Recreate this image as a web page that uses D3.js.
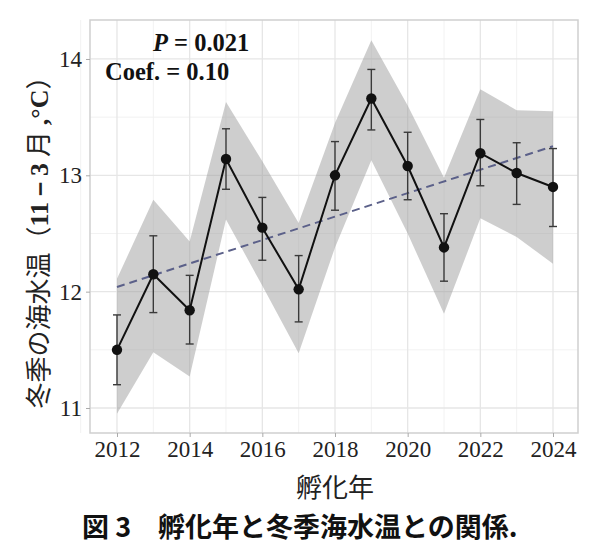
<!DOCTYPE html>
<html>
<head>
<meta charset="utf-8">
<script src="https://cdn.jsdelivr.net/npm/d3@7"></script>
<style>
  body { margin: 0; background: #fff; }
  svg { display: block; }
</style>
</head>
<body>
<svg id="chart" width="600" height="554"></svg>
<script>
// Data
const years = [2012, 2013, 2014, 2015, 2016, 2017, 2018, 2019, 2020, 2021, 2022, 2023, 2024];
const meanTemp = [11.50, 12.15, 11.84, 13.14, 12.55, 12.02, 13.00, 13.66, 13.08, 12.38, 13.19, 13.02, 12.90];
const errLow = [11.20, 11.82, 11.55, 12.88, 12.27, 11.74, 12.70, 13.39, 12.79, 12.09, 12.91, 12.75, 12.56];
const errHigh = [11.80, 12.48, 12.14, 13.40, 12.81, 12.31, 13.29, 13.91, 13.37, 12.67, 13.48, 13.28, 13.23];
const bandLow = [10.95, 11.48, 11.27, 12.62, 12.05, 11.47, 12.38, 13.13, 12.50, 11.81, 12.63, 12.47, 12.24];
const bandHigh = [12.11, 12.79, 12.43, 13.63, 13.12, 12.59, 13.45, 14.16, 13.60, 12.98, 13.74, 13.56, 13.55];
const trendYears = [2012, 2024];
const trendValues = [12.04, 13.25];
const xTicks = [2012, 2014, 2016, 2018, 2020, 2022, 2024];
const yTicks = [11, 12, 13, 14];

const rows = years.map((yr, i) => ({
  year: yr, mean: meanTemp[i], lo: errLow[i], hi: errHigh[i], bLo: bandLow[i], bHi: bandHigh[i]
}));

const svg = d3.select('#chart');
const panel = { left: 90, right: 578, top: 20, bottom: 433 };

const x = d3.scaleLinear().domain([2011.257, 2024.688]).range([panel.left, panel.right]);
const y = d3.scaleLinear().domain([10.785, 14.335]).range([panel.bottom, panel.top]);

// grid lines (minor first, then major)
const g = svg.append('g');
const xMinor = d3.range(2011, 2025, 1).filter(v => v % 2 === 1);
const yMinor = [11.5, 12.5, 13.5];
g.selectAll('.xminor').data(xMinor).join('line')
  .attr('x1', d => x(d)).attr('x2', d => x(d))
  .attr('y1', panel.top).attr('y2', panel.bottom)
  .attr('stroke', '#f2f2f2').attr('stroke-width', 1);
g.selectAll('.yminor').data(yMinor).join('line')
  .attr('x1', panel.left).attr('x2', panel.right)
  .attr('y1', d => y(d)).attr('y2', d => y(d))
  .attr('stroke', '#f2f2f2').attr('stroke-width', 1);
g.selectAll('.xmajor').data(xTicks).join('line')
  .attr('x1', d => x(d)).attr('x2', d => x(d))
  .attr('y1', panel.top).attr('y2', panel.bottom)
  .attr('stroke', '#e6e6e6').attr('stroke-width', 1.3);
g.selectAll('.ymajor').data(yTicks).join('line')
  .attr('x1', panel.left).attr('x2', panel.right)
  .attr('y1', d => y(d)).attr('y2', d => y(d))
  .attr('stroke', '#e6e6e6').attr('stroke-width', 1.3);

// confidence ribbon
const area = d3.area()
  .x(d => x(d.year))
  .y0(d => y(d.bLo))
  .y1(d => y(d.bHi));
svg.append('path')
  .datum(rows)
  .attr('d', area)
  .attr('fill', '#999')
  .attr('opacity', 0.48);

// trend line
svg.append('line')
  .attr('x1', x(trendYears[0])).attr('y1', y(trendValues[0]))
  .attr('x2', x(trendYears[1])).attr('y2', y(trendValues[1]))
  .attr('stroke', '#5b6089')
  .attr('stroke-width', 2)
  .attr('stroke-dasharray', '8,5');

// error bars
const eb = svg.append('g').attr('stroke', '#3a3a3a').attr('stroke-width', 1.4);
eb.selectAll('.v').data(rows).join('line')
  .attr('x1', d => x(d.year)).attr('x2', d => x(d.year))
  .attr('y1', d => y(d.lo)).attr('y2', d => y(d.hi));
eb.selectAll('.t').data(rows).join('line')
  .attr('x1', d => x(d.year) - 4).attr('x2', d => x(d.year) + 4)
  .attr('y1', d => y(d.hi)).attr('y2', d => y(d.hi));
eb.selectAll('.b').data(rows).join('line')
  .attr('x1', d => x(d.year) - 4).attr('x2', d => x(d.year) + 4)
  .attr('y1', d => y(d.lo)).attr('y2', d => y(d.lo));

// mean line and points
const line = d3.line().x(d => x(d.year)).y(d => y(d.mean));
svg.append('path')
  .datum(rows)
  .attr('d', line)
  .attr('fill', 'none')
  .attr('stroke', '#111')
  .attr('stroke-width', 2);
svg.selectAll('.pt').data(rows).join('circle')
  .attr('cx', d => x(d.year)).attr('cy', d => y(d.mean))
  .attr('r', 5.2).attr('fill', '#111');

// panel border
svg.append('rect')
  .attr('x', panel.left).attr('y', panel.top)
  .attr('width', panel.right - panel.left).attr('height', panel.bottom - panel.top)
  .attr('fill', 'none').attr('stroke', '#cfcfcf').attr('stroke-width', 1.5);

// axes
const xAxis = d3.axisBottom(x).tickValues(xTicks).tickFormat(d3.format('d')).tickSize(4).tickPadding(4);
const yAxis = d3.axisLeft(y).tickValues(yTicks).tickFormat(d3.format('d')).tickSize(4).tickPadding(4);
const gx = svg.append('g').attr('transform', `translate(0,${panel.bottom})`).call(xAxis);
const gy = svg.append('g').attr('transform', `translate(${panel.left},0)`).call(yAxis);
[gx, gy].forEach(a => {
  a.select('.domain').remove();
  a.selectAll('.tick line').attr('stroke', '#aaa');
  a.selectAll('.tick text')
    .attr('font-family', '"Liberation Serif", serif')
    .attr('font-size', 23)
    .attr('fill', '#222');
});

// annotation
const serif = '"Liberation Serif", "Times New Roman", serif';
const ann = svg.append('g').attr('font-family', serif).attr('font-weight', 'bold').attr('font-size', 24.5).attr('fill', '#111');
const t1 = ann.append('text').attr('x', 153).attr('y', 51);
t1.append('tspan').attr('font-style', 'italic').text('P');
t1.append('tspan').text(' = 0.021');
ann.append('text').attr('x', 105).attr('y', 80).text('Coef. = 0.10');

// axis titles
const jp = '"Noto Sans CJK JP", "Noto Sans", sans-serif';
svg.append('text')
  .attr('x', x(2018)).attr('y', 497)
  .attr('text-anchor', 'middle')
  .attr('font-family', jp).attr('font-size', 26).attr('fill', '#222')
  .text('孵化年');

const yt = svg.append('text')
  .attr('transform', 'translate(48,236) rotate(-90)')
  .attr('text-anchor', 'middle')
  .attr('font-family', jp).attr('font-size', 26).attr('fill', '#222');
yt.append('tspan').text('冬季の海水温（');
yt.append('tspan').attr('font-family', serif).attr('font-weight', 'bold').text('11－3');
yt.append('tspan').text(' 月 ');
yt.append('tspan').attr('font-family', serif).attr('font-weight', 'bold').text(',°C');
yt.append('tspan').text('）');

// caption
svg.append('text')
  .attr('x', 82).attr('y', 537)
  .attr('font-family', jp).attr('font-weight', 'bold').attr('font-size', 27).attr('fill', '#111')
  .attr('xml:space', 'preserve')
  .text('図 3　孵化年と冬季海水温との関係.');
</script>
</body>
</html>
